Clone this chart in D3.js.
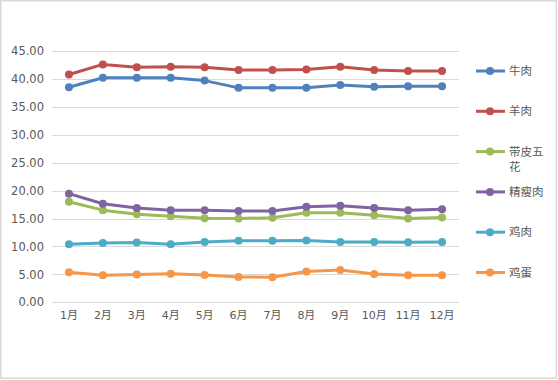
<!DOCTYPE html>
<html><head><meta charset="utf-8">
<script src="https://cdn.jsdelivr.net/npm/d3@7"></script>
<style>body{margin:0;background:#fff}svg{display:block}</style>
</head><body>
<svg id="c" width="558" height="380"></svg>
<script>
const months = ["1月","2月","3月","4月","5月","6月","7月","8月","9月","10月","11月","12月"];
const seriesNames = ["牛肉","羊肉","带皮五花","精瘦肉","鸡肉","鸡蛋"];
const colors = ["#4F81BD","#C0504D","#9BBB59","#8064A2","#4BACC6","#F79646"];
const beef    = [38.5,40.2,40.2,40.2,39.7,38.4,38.4,38.4,38.9,38.6,38.7,38.7];
const mutton  = [40.8,42.6,42.1,42.2,42.1,41.6,41.6,41.7,42.2,41.6,41.4,41.4];
const pork    = [18.0,16.5,15.75,15.4,15.05,15.0,15.15,16.05,16.05,15.6,15.0,15.2];
const lean    = [19.45,17.65,16.9,16.5,16.5,16.35,16.35,17.1,17.3,16.9,16.5,16.65];
const chicken = [10.4,10.6,10.7,10.4,10.8,11.0,11.0,11.05,10.8,10.8,10.75,10.8];
const egg     = [5.37,4.83,5.0,5.1,4.9,4.53,4.5,5.5,5.8,5.07,4.83,4.83];
const yTicks  = [0,5,10,15,20,25,30,35,40,45];
const allSeries = [beef,mutton,pork,lean,chicken,egg];

(function(){
const svg = d3.select("#c");
svg.append("rect").attr("x",0.75).attr("y",0.75).attr("width",555.5).attr("height",377.5)
  .attr("fill","#fff").attr("stroke","#d9d9d9").attr("stroke-width",1.5);

const pLeft=52, pRight=459, pTop=51, pBottom=302.3;
const x = d3.scaleBand().domain(months).range([pLeft,pRight]);
const y = d3.scaleLinear().domain([0,45]).range([pBottom,pTop]);
const font = "'DejaVu Sans', sans-serif";
const cjk = "'DejaVu Sans','Noto Sans CJK SC', sans-serif";

svg.append("g").selectAll("line").data(yTicks).join("line")
  .attr("x1",pLeft).attr("x2",pRight)
  .attr("y1",d=>Math.round(y(d))+0.5).attr("y2",d=>Math.round(y(d))+0.5)
  .attr("stroke","#d9d9d9").attr("stroke-width",1);

const yAxis = d3.axisLeft(y).tickValues(yTicks).tickFormat(d3.format(".2f")).tickSize(0).tickPadding(8);
const gy = svg.append("g").attr("transform",`translate(${pLeft},0)`).call(yAxis);
gy.select(".domain").remove();
gy.selectAll("text").attr("fill","#595959").style("font-family",font).style("font-size","11.5px");

const xAxis = d3.axisBottom(x).tickSize(0).tickPadding(9);
const gx = svg.append("g").attr("transform",`translate(0,${pBottom})`).call(xAxis);
gx.select(".domain").remove();
gx.selectAll("text").attr("fill","#595959").style("font-family",cjk).style("font-size","11px");

const cx = m => x(m)+x.bandwidth()/2;
const line = d3.line().x((d,i)=>cx(months[i])).y(d=>y(d));

allSeries.forEach((s,k)=>{
  const g = svg.append("g");
  g.append("path").attr("d",line(s)).attr("fill","none")
    .attr("stroke",colors[k]).attr("stroke-width",3).attr("stroke-linejoin","round");
  g.selectAll("circle").data(s).join("circle")
    .attr("cx",(d,i)=>cx(months[i])).attr("cy",d=>y(d)).attr("r",4)
    .attr("fill",colors[k]);
});

const legY = d3.scaleLinear().domain([0,5]).range([71,272.5]);
seriesNames.forEach((name,k)=>{
  const yy = legY(k);
  const g = svg.append("g");
  g.append("line").attr("x1",476).attr("x2",505).attr("y1",yy).attr("y2",yy)
    .attr("stroke",colors[k]).attr("stroke-width",3);
  g.append("circle").attr("cx",490).attr("cy",yy).attr("r",4).attr("fill",colors[k]);
  const lines = name.length>3 ? [name.slice(0,3), name.slice(3)] : [name];
  const t = g.append("text").attr("fill","#595959")
    .style("font-family","'Noto Sans CJK SC', sans-serif").style("font-size","11.5px");
  lines.forEach((l,i)=>{
    t.append("tspan").attr("x",509).attr("y",yy+4+i*15.5).text(l);
  });
});
})();
</script>
</body></html>
